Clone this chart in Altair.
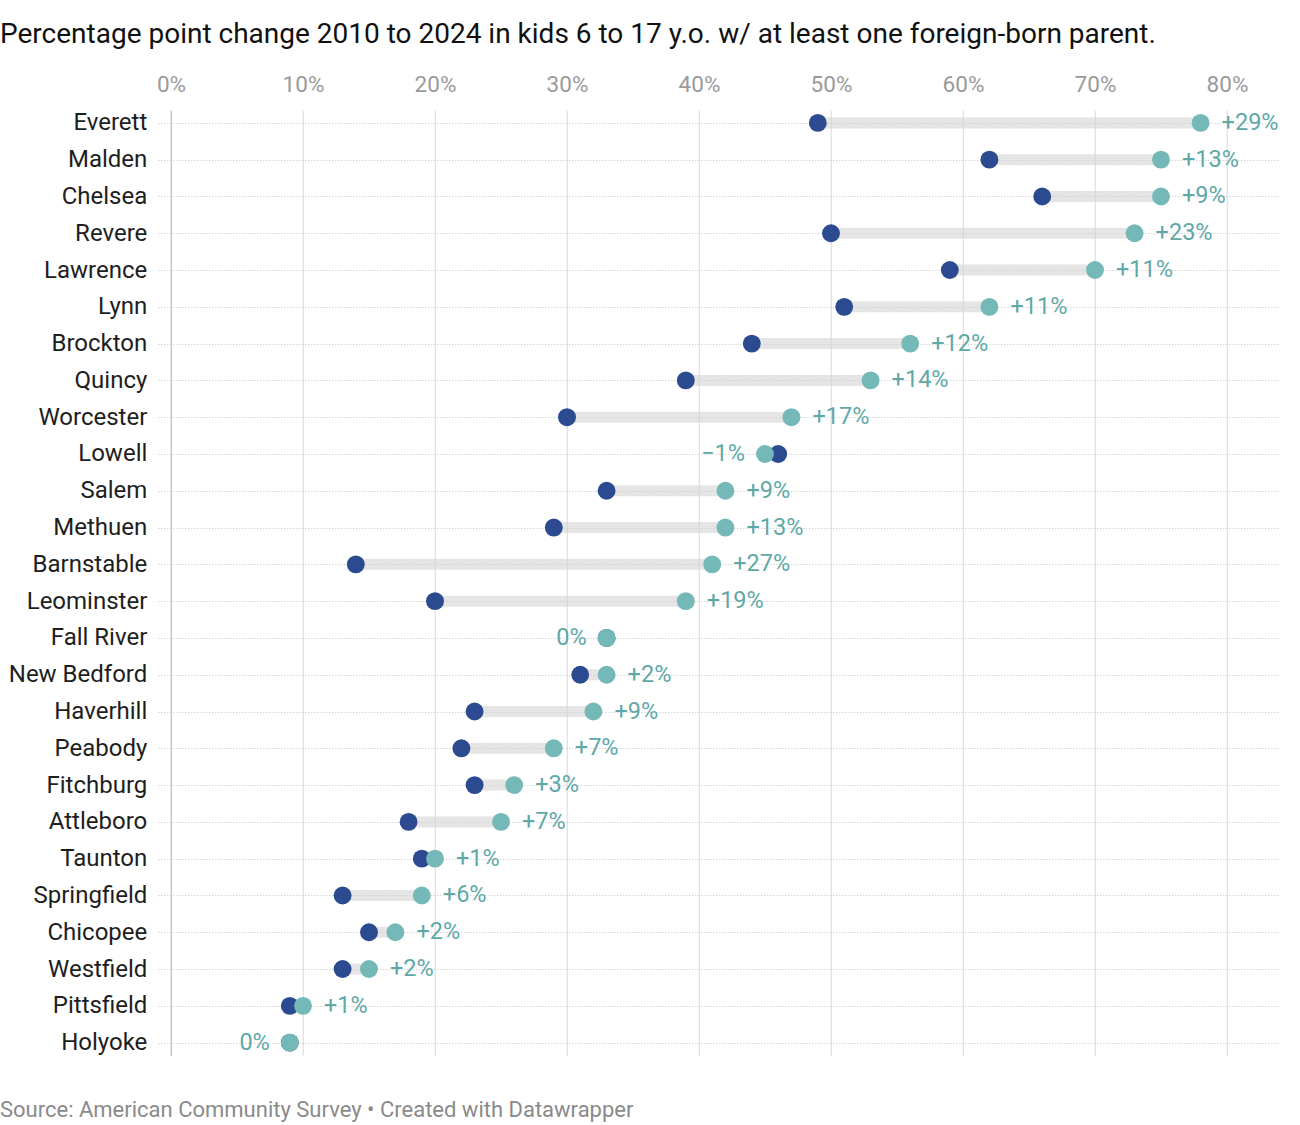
import altair as alt
import pandas as pd

# Share of kids 6-17 with at least one foreign-born parent (%)
cities = ["Everett", "Malden", "Chelsea", "Revere", "Lawrence", "Lynn", "Brockton",
          "Quincy", "Worcester", "Lowell", "Salem", "Methuen", "Barnstable",
          "Leominster", "Fall River", "New Bedford", "Haverhill", "Peabody",
          "Fitchburg", "Attleboro", "Taunton", "Springfield", "Chicopee",
          "Westfield", "Pittsfield", "Holyoke"]
share_2010 = [49, 62, 66, 50, 59, 51, 44, 39, 30, 46, 33, 29, 14, 20, 33, 31, 23, 22,
              23, 18, 19, 13, 15, 13, 9, 9]
share_2024 = [78, 75, 75, 73, 70, 62, 56, 53, 47, 45, 42, 42, 41, 39, 33, 33, 32, 29,
              26, 25, 20, 19, 17, 15, 10, 9]
x_ticks = [0, 10, 20, 30, 40, 50, 60, 70, 80]

df = pd.DataFrame({"city": cities, "y2010": share_2010, "y2024": share_2024})
df["change"] = df["y2024"] - df["y2010"]
df["lo"] = df[["y2010", "y2024"]].min(axis=1)


def fmt(c):
    if c > 0:
        return f"+{c}%"
    if c < 0:
        return f"\u2212{abs(c)}%"
    return "0%"


df["label"] = df["change"].apply(fmt)

W, H = 1122, 945.5
LEFT, TOP = 157.8, 110

NAVY = "#2b4a90"
TEAL = "#74b8b7"
TEAL_TXT = "#5ea9a7"
FONT = "Roboto"

x_scale = alt.Scale(domain=[-1, 84], nice=False, zero=False)
y_scale = alt.Scale(type="point", domain=cities, padding=0.35)

x_axis = alt.Axis(orient="top", values=x_ticks, labelExpr="datum.value + '%'",
                  ticks=False, domain=False, labelPadding=14, labelFontSize=22.5,
                  labelColor="#9a9a9a", labelFont=FONT, title=None,
                  gridColor={"condition": {"test": "datum.value === 0", "value": "#bdbdbd"},
                             "value": "#e2e2e2"},
                  gridWidth=1.3)
y_axis = alt.Axis(ticks=False, domain=False, labelPadding=11, labelFontSize=24,
                  labelColor="#1e1e1e", labelFont=FONT, title=None, grid=True,
                  gridColor="#c2c2c2", gridDash=[1, 2], gridWidth=1)

base = alt.Chart(df)

bars = base.mark_rule(strokeWidth=11, color="#d4d4d4", opacity=0.6).encode(
    x=alt.X("y2010:Q", scale=x_scale, axis=x_axis),
    x2="y2024:Q",
    y=alt.Y("city:N", scale=y_scale, axis=y_axis, sort=cities),
)

dots_2010 = base.mark_circle(size=320, opacity=1, color=NAVY).encode(
    x=alt.X("y2010:Q", scale=x_scale),
    y=alt.Y("city:N", scale=y_scale, sort=cities),
)

dots_2024 = base.mark_circle(size=320, opacity=1, color=TEAL).encode(
    x=alt.X("y2024:Q", scale=x_scale),
    y=alt.Y("city:N", scale=y_scale, sort=cities),
)

labels_up = base.transform_filter("datum.change > 0").mark_text(
    align="left", baseline="middle", dx=21, fontSize=23.5, font=FONT, color=TEAL_TXT
).encode(
    x=alt.X("y2024:Q", scale=x_scale),
    y=alt.Y("city:N", scale=y_scale, sort=cities),
    text="label:N",
)

labels_down = base.transform_filter("datum.change <= 0").mark_text(
    align="right", baseline="middle", dx=-20, fontSize=23.5, font=FONT, color=TEAL_TXT
).encode(
    x=alt.X("lo:Q", scale=x_scale),
    y=alt.Y("city:N", scale=y_scale, sort=cities),
    text="label:N",
)

source = alt.Chart(pd.DataFrame({"t": ["Source: American Community Survey \u2022 Created with Datawrapper"]})).mark_text(
    align="left", baseline="middle", fontSize=22, font=FONT, color="#8a8a8a"
).encode(
    x=alt.value(-LEFT),
    y=alt.value(1110 - TOP),
    text="t:N",
)

chart = alt.layer(bars, dots_2010, dots_2024, labels_up, labels_down, source).properties(
    width=W,
    height=H,
    title=alt.TitleParams(
        "Percentage point change 2010 to 2024 in kids 6 to 17 y.o. w/ at least one foreign-born parent.",
        anchor="start", frame="group", dx=-LEFT, fontSize=28, font=FONT,
        fontWeight="normal", color="#111111", offset=24,
    ),
    autosize=alt.AutoSizeParams(type="none"),
    padding={"left": LEFT, "top": TOP, "right": 1300 - LEFT - W, "bottom": 1125 - TOP - H},
).configure(background="white").configure_view(stroke=None)

chart.save("out.html", embed_options={"renderer": "svg", "actions": False})
